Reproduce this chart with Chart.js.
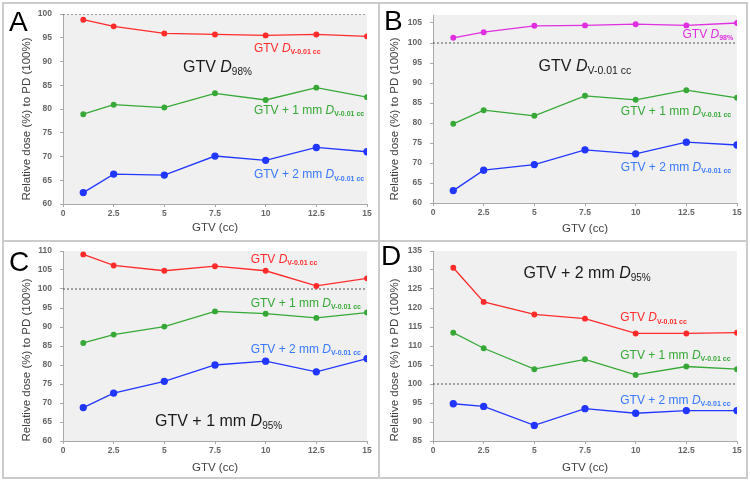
<!DOCTYPE html>
<html>
<head>
<meta charset="utf-8">
<script src="https://cdn.jsdelivr.net/npm/chart.js@4.4.1/dist/chart.umd.min.js"></script>
<style>
  body { margin: 0; background: #fff; width: 750px; height: 481px; position: relative; overflow: hidden; }
  .frame { position: absolute; left: 2px; top: 2px; width: 742px; height: 473px; border: 2px solid #cbcbcb; }
  .vline { position: absolute; left: 378px; top: 2px; width: 2px; height: 477px; background: #cbcbcb; }
  .hline { position: absolute; left: 2px; top: 240px; width: 746px; height: 2px; background: #cbcbcb; }
  canvas { position: absolute; }
</style>
</head>
<body>
<div class="frame"></div>
<div class="vline"></div>
<div class="hline"></div>
<canvas id="panelA" width="376" height="238" style="left:3px;top:3px"></canvas>
<canvas id="panelB" width="368" height="238" style="left:379px;top:3px"></canvas>
<canvas id="panelC" width="376" height="237" style="left:3px;top:241px"></canvas>
<canvas id="panelD" width="368" height="237" style="left:379px;top:241px"></canvas>
<script>
// GTV volumes (cc) on the x axis
const gtvVolumes = [1, 2.5, 5, 7.5, 10, 12.5, 15];
const xTicks = [0, 2.5, 5, 7.5, 10, 12.5, 15];
const prescribedDose = 100;
const yTitle = 'Relative dose (%) to PD (100%)';

// A: prescribed to GTV D98%
const aGtvDv = [98.8, 97.4, 95.9, 95.7, 95.5, 95.7, 95.3];
const aGtv1mmDv = [78.9, 80.9, 80.3, 83.3, 81.9, 84.5, 82.5];
const aGtv2mmDv = [62.4, 66.3, 66.1, 70.1, 69.2, 71.9, 71.0];
const aYTicks = [60, 65, 70, 75, 80, 85, 90, 95, 100];

// B: prescribed to GTV DV-0.01 cc
const bGtvD98 = [101.3, 102.7, 104.3, 104.4, 104.7, 104.4, 105.0];
const bGtv1mmDv = [79.8, 83.2, 81.8, 86.8, 85.8, 88.2, 86.3];
const bGtv2mmDv = [63.1, 68.2, 69.6, 73.3, 72.3, 75.2, 74.5];
const bYTicks = [60, 65, 70, 75, 80, 85, 90, 95, 100, 105];

// C: prescribed to GTV + 1 mm D95%
const cGtvDv = [109.1, 106.2, 104.8, 106.0, 104.8, 100.8, 102.8];
const cGtv1mmDv = [85.8, 88.0, 90.1, 94.1, 93.5, 92.4, 93.8];
const cGtv2mmDv = [68.8, 72.6, 75.7, 80.0, 81.0, 78.2, 81.7];
const cYTicks = [60, 65, 70, 75, 80, 85, 90, 95, 100, 105, 110];

// D: prescribed to GTV + 2 mm D95%
const dGtvDv = [130.6, 121.6, 118.3, 117.2, 113.3, 113.3, 113.5];
const dGtv1mmDv = [113.5, 109.4, 103.9, 106.5, 102.4, 104.6, 103.9];
const dGtv2mmDv = [94.8, 94.1, 89.1, 93.5, 92.3, 93.0, 93.0];
const dYTicks = [85, 90, 95, 100, 105, 110, 115, 120, 125, 130, 135];

const FONT = '"Liberation Sans", Arial, sans-serif';
const RED = '#ff2b2b', GREEN = '#36a836', BLUE = '#2136ff', BLUE_TEXT = '#3a78ff', MAGENTA = '#e02fe0';
const axisGray = '#a8a8a8';

const DV = ['D', 'V-0.01 cc'];
function small(parts, color, x, y) {
  return { parts, color, x, y, size: 12, subSize: 7, subBold: true };
}
function big(parts, x, y, subSize) {
  return { parts, color: '#1a1a1a', x, y, size: 16, subSize: subSize, subBold: false };
}

function series(values, color, radius) {
  return {
    data: values.map((v, i) => ({ x: gtvVolumes[i], y: v })),
    borderColor: color, backgroundColor: color,
    borderWidth: 1.3, pointRadius: radius, pointHoverRadius: radius,
    tension: 0
  };
}

function refLine() {
  return {
    data: [{ x: xTicks[0], y: prescribedDose }, { x: xTicks[xTicks.length - 1], y: prescribedDose }],
    borderColor: '#555', borderWidth: 1, borderDash: [2, 2], pointRadius: 0
  };
}

function drawRich(ctx, lab, xs, ys) {
  let x = xs.getPixelForValue(lab.x);
  const yc = ys.getPixelForValue(lab.y);
  const base = yc + lab.size * 0.36;
  ctx.textBaseline = 'alphabetic';
  ctx.textAlign = 'left';
  ctx.fillStyle = lab.color;
  ctx.font = lab.size + 'px ' + FONT;
  ctx.fillText(lab.parts[0], x, base);
  x += ctx.measureText(lab.parts[0]).width;
  ctx.font = 'italic ' + lab.size + 'px ' + FONT;
  ctx.fillText(lab.parts[1], x, base);
  x += ctx.measureText(lab.parts[1]).width;
  ctx.font = (lab.subBold ? 'bold ' : '') + lab.subSize + 'px ' + FONT;
  ctx.fillText(lab.parts[2], x, base + lab.size * 0.18);
}

const decor = {
  id: 'decor',
  beforeDraw(chart) {
    const { ctx, chartArea: a } = chart;
    ctx.save();
    ctx.fillStyle = '#f0f0f0';
    ctx.fillRect(a.left, a.top, a.right - a.left, a.bottom - a.top);
    ctx.restore();
  },
  afterDatasetsDraw(chart) {
    const { ctx } = chart;
    const o = chart.options.plugins.decor;
    ctx.save();
    o.labels.forEach(l => drawRich(ctx, l, chart.scales.x, chart.scales.y));
    ctx.font = '28px ' + FONT;
    ctx.fillStyle = '#000';
    ctx.textAlign = 'left';
    ctx.textBaseline = 'alphabetic';
    ctx.fillText(o.letter, o.letterPos[0], o.letterPos[1]);
    // rotated y-axis title, centred on the panel rather than the plot area
    ctx.translate(o.yTitlePos[0], o.yTitlePos[1]);
    ctx.rotate(-Math.PI / 2);
    ctx.font = '11.5px ' + FONT;
    ctx.fillStyle = '#404040';
    ctx.textAlign = 'center';
    ctx.textBaseline = 'middle';
    ctx.fillText(yTitle, 0, 0);
    ctx.restore();
  }
};

function makeChart(id, cfg) {
  const tickFont = { family: FONT, size: 8.5, weight: 'bold' };
  new Chart(document.getElementById(id), {
    type: 'line',
    data: { datasets: cfg.datasets.concat([refLine()]) },
    options: {
      responsive: false,
      animation: false,
      layout: { padding: cfg.pad },
      plugins: {
        legend: { display: false },
        tooltip: { enabled: false },
        decor: { labels: cfg.labels, letter: cfg.letter, letterPos: cfg.letterPos, yTitlePos: cfg.yTitlePos }
      },
      scales: {
        x: {
          type: 'linear', min: 0, max: 15,
          afterBuildTicks: s => { s.ticks = xTicks.map(v => ({ value: v })); },
          afterFit: s => { s.height = cfg.xH; s.paddingLeft = 0; s.paddingRight = 0; },
          grid: { display: true, drawOnChartArea: false, drawTicks: true, tickLength: 3, color: axisGray },
          border: { display: true, color: axisGray },
          ticks: { font: tickFont, color: '#666', padding: 2, maxRotation: 0, autoSkip: false, callback: v => String(v) },
          title: { display: true, text: 'GTV (cc)', font: { family: FONT, size: 11.5 }, color: '#404040', padding: { top: 0, bottom: cfg.xTitlePad } }
        },
        y: {
          min: cfg.yMin, max: cfg.yMax,
          afterBuildTicks: s => { s.ticks = cfg.yTicks.map(v => ({ value: v })); },
          afterFit: s => { s.width = cfg.yW; s.paddingTop = 0; s.paddingBottom = 0; },
          grid: { display: true, drawOnChartArea: false, drawTicks: true, tickLength: 3, color: axisGray },
          border: { display: true, color: axisGray },
          ticks: { font: tickFont, color: '#666', padding: 8, autoSkip: false, callback: v => String(v) },
          title: { display: false }
        }
      }
    },
    plugins: [decor]
  });
}

makeChart('panelA', {
  datasets: [series(aGtvDv, RED, 2.3), series(aGtv1mmDv, GREEN, 2.3), series(aGtv2mmDv, BLUE, 3)],
  yMin: 60, yMax: 100, yTicks: aYTicks,
  pad: { left: 16, top: 11, right: 12, bottom: 0 }, yW: 44, xH: 37, xTitlePad: 6,
  letter: 'A', letterPos: [6, 28], yTitlePos: [24, 116],
  labels: [
    small(['GTV ', ...DV], RED, 9.42, 93.0),
    big(['GTV ', 'D', '98%'], 5.92, 89.0, 10),
    small(['GTV + 1 mm ', ...DV], GREEN, 9.42, 79.9),
    small(['GTV + 2 mm ', ...DV], BLUE_TEXT, 9.42, 66.3)
  ]
});

makeChart('panelB', {
  datasets: [series(bGtvD98, MAGENTA, 2.3), series(bGtv1mmDv, GREEN, 2.3), series(bGtv2mmDv, BLUE, 3)],
  yMin: 60, yMax: 107, yTicks: bYTicks,
  pad: { left: 8, top: 12, right: 10, bottom: 0 }, yW: 46, xH: 38, xTitlePad: 5.5,
  letter: 'B', letterPos: [5, 27], yTitlePos: [16, 116],
  labels: [
    small(['GTV ', 'D', '98%'], MAGENTA, 12.31, 102.4),
    big(['GTV ', ...DV], 5.21, 94.5, 10.5),
    small(['GTV + 1 mm ', ...DV], GREEN, 9.27, 83.2),
    small(['GTV + 2 mm ', ...DV], BLUE_TEXT, 9.27, 69.1)
  ]
});

makeChart('panelC', {
  datasets: [series(cGtvDv, RED, 2.3), series(cGtv1mmDv, GREEN, 2.3), series(cGtv2mmDv, BLUE, 3)],
  yMin: 60, yMax: 110, yTicks: cYTicks,
  pad: { left: 16, top: 10, right: 12, bottom: 0 }, yW: 44, xH: 37, xTitlePad: 3,
  letter: 'C', letterPos: [6, 30], yTitlePos: [24, 119],
  labels: [
    small(['GTV ', ...DV], RED, 9.26, 108.0),
    small(['GTV + 1 mm ', ...DV], GREEN, 9.26, 96.45),
    small(['GTV + 2 mm ', ...DV], BLUE_TEXT, 9.26, 84.3),
    big(['GTV + 1 mm ', 'D', '95%'], 4.54, 65.5, 10)
  ]
});

makeChart('panelD', {
  datasets: [series(dGtvDv, RED, 2.3), series(dGtv1mmDv, GREEN, 2.3), series(dGtv2mmDv, BLUE, 3)],
  yMin: 85, yMax: 135, yTicks: dYTicks,
  pad: { left: 8, top: 10, right: 10, bottom: 0 }, yW: 46, xH: 37, xTitlePad: 3,
  letter: 'D', letterPos: [2, 24], yTitlePos: [16, 119],
  labels: [
    big(['GTV + 2 mm ', 'D', '95%'], 4.47, 129.3, 10),
    small(['GTV ', ...DV], RED, 9.24, 117.6),
    small(['GTV + 1 mm ', ...DV], GREEN, 9.24, 107.7),
    small(['GTV + 2 mm ', ...DV], BLUE_TEXT, 9.24, 96.0)
  ]
});
</script>
</body>
</html>
